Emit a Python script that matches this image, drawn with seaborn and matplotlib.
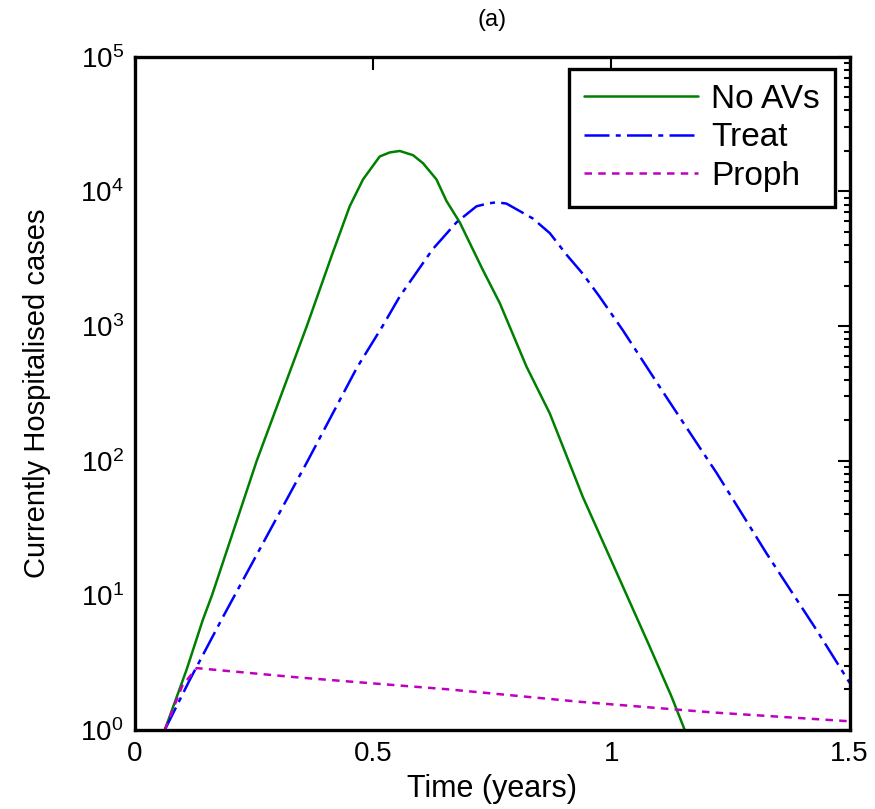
import numpy as np
import pandas as pd
import matplotlib
matplotlib.use('Agg')
import matplotlib.pyplot as plt
import seaborn as sns
from matplotlib.ticker import LogLocator, FixedLocator

# Valores (tempo em anos, casos hospitalizados)
t_noav = [0.063, 0.109, 0.143, 0.162, 0.256, 0.361, 0.415, 0.451, 0.479, 0.514, 0.535,
          0.556, 0.584, 0.605, 0.633, 0.654, 0.682, 0.730, 0.766, 0.822, 0.871, 0.940,
          1.011, 1.080, 1.126, 1.154]
cases_noav = [1.0, 2.82, 6.6, 10, 100, 1000, 3470, 7760, 12300, 18200, 19500,
              20000, 18600, 16200, 12300, 8510, 5890, 2630, 1480, 500, 224, 54,
              14.8, 4.2, 1.78, 1.0]

t_treat = [0.063, 0.115, 0.185, 0.363, 0.466, 0.520, 0.556, 0.625, 0.675, 0.717, 0.740,
           0.759, 0.780, 0.835, 0.871, 0.906, 0.940, 0.975, 1.024, 1.116, 1.185, 1.221,
           1.326, 1.431, 1.50]
cases_treat = [1.0, 2.34, 6.9, 100, 490, 1000, 1660, 3720, 5890, 7760, 8130,
               8320, 8130, 6310, 4900, 3390, 2450, 1660, 933, 295, 126, 81,
               20.4, 5.5, 2.24]

t_proph = [0.063, 0.100, 0.130, 0.346, 0.660, 0.933, 1.212, 1.50]
cases_proph = [1.0, 2.14, 2.88, 2.45, 2.0, 1.62, 1.35, 1.16]

labels = ['No AVs', 'Treat', 'Proph']
x_ticks = [0, 0.5, 1, 1.5]
x_tick_labels = ['0', '0.5', '1', '1.5']

sns.set_style('white')
plt.rcParams['font.family'] = ['Liberation Sans', 'DejaVu Sans']
plt.rcParams['mathtext.fontset'] = 'custom'
plt.rcParams['mathtext.rm'] = 'Liberation Sans'
plt.rcParams['mathtext.it'] = 'Liberation Sans'
plt.rcParams['text.color'] = 'black'
plt.rcParams['axes.labelcolor'] = 'black'
plt.rcParams['xtick.color'] = 'black'
plt.rcParams['ytick.color'] = 'black'

df = pd.concat([
    pd.DataFrame({'t': t_noav, 'casos': cases_noav, 'serie': labels[0]}),
    pd.DataFrame({'t': t_treat, 'casos': cases_treat, 'serie': labels[1]}),
    pd.DataFrame({'t': t_proph, 'casos': cases_proph, 'serie': labels[2]}),
])

fig = plt.figure(figsize=(8.75, 8.09), dpi=100)
ax = fig.add_axes([0.154, 0.0977, 0.817, 0.832])

estilos = {
    'No AVs': dict(color='#008000', linestyle='-'),
    'Treat': dict(color='#0000ff', linestyle=(0, (10, 2.5, 2, 2.5))),
    'Proph': dict(color='#bf00bf', linestyle=(0, (3, 2.5))),
}

for nome in labels:
    sub = df[df['serie'] == nome]
    sns.lineplot(data=sub, x='t', y='casos', ax=ax, label=nome, linewidth=1.8,
                 estimator=None, sort=False, **estilos[nome])

ax.set_yscale('log')
ax.set_xlim(0, 1.5)
ax.set_ylim(1, 1e5)
ax.xaxis.set_major_locator(FixedLocator(x_ticks))
ax.set_xticklabels(x_tick_labels)
ax.yaxis.set_major_locator(LogLocator(base=10, numticks=10))
ax.yaxis.set_minor_locator(LogLocator(base=10, subs=np.arange(2, 10), numticks=20))

ax.tick_params(which='both', direction='in', top=True, right=True, labelsize=20, width=1.5)
ax.tick_params(which='major', length=9, pad=8)
ax.tick_params(which='minor', length=4.5)
ax.tick_params(axis='x', which='minor', top=False, bottom=False)

for s in ax.spines.values():
    s.set_linewidth(2.4)
    s.set_color('black')

ax.set_xlabel('Time (years)', fontsize=22, labelpad=5)
ax.set_ylabel('Currently Hospitalised cases', fontsize=21, labelpad=21)
ax.set_title('(a)', fontsize=17, pad=22)

leg = ax.legend(loc='upper right', bbox_to_anchor=(0.979, 0.982), borderaxespad=0,
                fontsize=24, handlelength=3.4, handletextpad=0.4, labelspacing=0.22,
                borderpad=0.45, fancybox=False, framealpha=1, edgecolor='black')
leg.get_frame().set_linewidth(2.4)

plt.savefig('out.png', dpi=100)
plt.close()
